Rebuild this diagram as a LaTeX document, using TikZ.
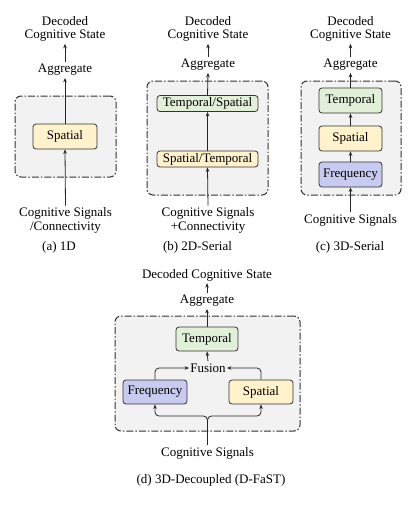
\documentclass[tikz,border=0pt]{standalone}
\usepackage{fontspec}
\setmainfont{Liberation Serif}
\usetikzlibrary{arrows.meta}
\definecolor{spa}{HTML}{FFF2CC}
\definecolor{tem}{HTML}{E2F0D9}
\definecolor{fre}{HTML}{C8CAF0}
\definecolor{bord}{HTML}{333333}
\definecolor{panelfill}{HTML}{F2F2F2}
\tikzset{
  txt/.style={font=\fontsize{13}{13.5}\selectfont, align=center, inner xsep=1pt, inner ysep=2pt},
  panel/.style={draw=bord, fill=panelfill, line width=1pt, rounded corners=6pt,
    dash pattern=on 7pt off 2pt on 1.5pt off 2pt, inner sep=0pt},
  blk/.style={draw=bord, line width=0.8pt, rounded corners=3pt, inner sep=0pt,
    font=\fontsize{13}{13.5}\selectfont},
  arr/.style={draw=black!85, line width=0.8pt, -{Stealth[length=4.5pt,width=3.6pt]}},
}
\begin{document}
\begin{tikzpicture}[x=1pt,y=-1pt]
\useasboundingbox (0,0) rectangle (415,506);
% ---------- (a)
\node[panel, minimum width=101pt, minimum height=81pt] (pa) at (65.5,136.5) {};
\node[blk, fill=spa, minimum width=64pt, minimum height=25pt] (sa) at (65,136.5) {Spatial};
\node[txt] (aga) at (65,70) {Aggregate};
\node[txt] (deca) at (65,29) {Decoded\\Cognitive State};
\node[txt] (ina) at (65.5,220.5) {Cognitive Signals\\/Connectivity};
\node[txt] (capa) at (59,247) {(a) 1D};
\draw[arr] (ina.north) -- (sa.south);
\draw[arr] (sa.north) -- (aga.south);
\draw[arr] (aga.north) -- (deca.south);
% ---------- (b)
\node[panel, minimum width=121pt, minimum height=114pt] (pb) at (207.5,138) {};
\node[blk, fill=tem, minimum width=101pt, minimum height=16pt] (tb) at (207.5,103.5) {Temporal/Spatial};
\node[blk, fill=spa, minimum width=101pt, minimum height=16pt] (sb) at (207.5,159) {Spatial/Temporal};
\node[txt] (agb) at (208,65) {Aggregate};
\node[txt] (decb) at (208,29) {Decoded\\Cognitive State};
\node[txt] (inb) at (208,220.5) {Cognitive Signals\\+Connectivity};
\node[txt] (capb) at (197.5,247) {(b) 2D-Serial};
\draw[arr] (inb.north) -- (sb.south);
\draw[arr] (sb.north) -- (tb.south);
\draw[arr] (tb.north) -- (agb.south);
\draw[arr] (agb.north) -- (decb.south);
% ---------- (c)
\node[panel, minimum width=100pt, minimum height=114pt] (pc) at (351,138) {};
\node[blk, fill=tem, minimum width=63pt, minimum height=25pt] (tc) at (350.5,100.5) {Temporal};
\node[blk, fill=spa, minimum width=63pt, minimum height=25pt] (sc) at (350.5,138.5) {Spatial};
\node[blk, fill=fre, minimum width=63pt, minimum height=25pt] (fc) at (350.5,174.5) {Frequency};
\node[txt] (agc) at (350.5,65) {Aggregate};
\node[txt] (decc) at (350.5,29) {Decoded\\Cognitive State};
\node[txt] (inc) at (350.5,220) {Cognitive Signals};
\node[txt] (capc) at (350,247) {(c) 3D-Serial};
\draw[arr] (inc.north) -- (fc.south);
\draw[arr] (fc.north) -- (sc.south);
\draw[arr] (sc.north) -- (tc.south);
\draw[arr] (tc.north) -- (agc.south);
\draw[arr] (agc.north) -- (decc.south);
% ---------- (d)
\node[panel, minimum width=185pt, minimum height=115pt] (pd) at (207.5,373.5) {};
\node[blk, fill=tem, minimum width=62pt, minimum height=24pt] (td) at (207,339) {Temporal};
\node[txt] (fus) at (208,368) {Fusion};
\node[blk, fill=fre, minimum width=64pt, minimum height=24pt] (fd) at (155,392) {Frequency};
\node[blk, fill=spa, minimum width=64pt, minimum height=24pt] (sd) at (261,392) {Spatial};
\node[txt] (agd) at (207,301) {Aggregate};
\node[txt] (decd) at (207,275) {Decoded Cognitive State};
\node[txt] (ind) at (207.5,453) {Cognitive Signals};
\node[txt] (capd) at (211,480) {(d) 3D-Decoupled (D-FaST)};
\coordinate (jd) at (207.5,416);
\draw[arr, rounded corners=4pt] (ind.north) -- (jd) -| (fd.south);
\draw[arr, rounded corners=4pt] (ind.north) -- (jd) -| (sd.south);
\draw[arr, rounded corners=4pt] (fd.north) |- (fus.west);
\draw[arr, rounded corners=4pt] (sd.north) |- (fus.east);
\draw[arr] (fus.north) -- (td.south);
\draw[arr] (td.north) -- (agd.south);
\draw[arr] (agd.north) -- (decd.south);
\end{tikzpicture}
\end{document}
